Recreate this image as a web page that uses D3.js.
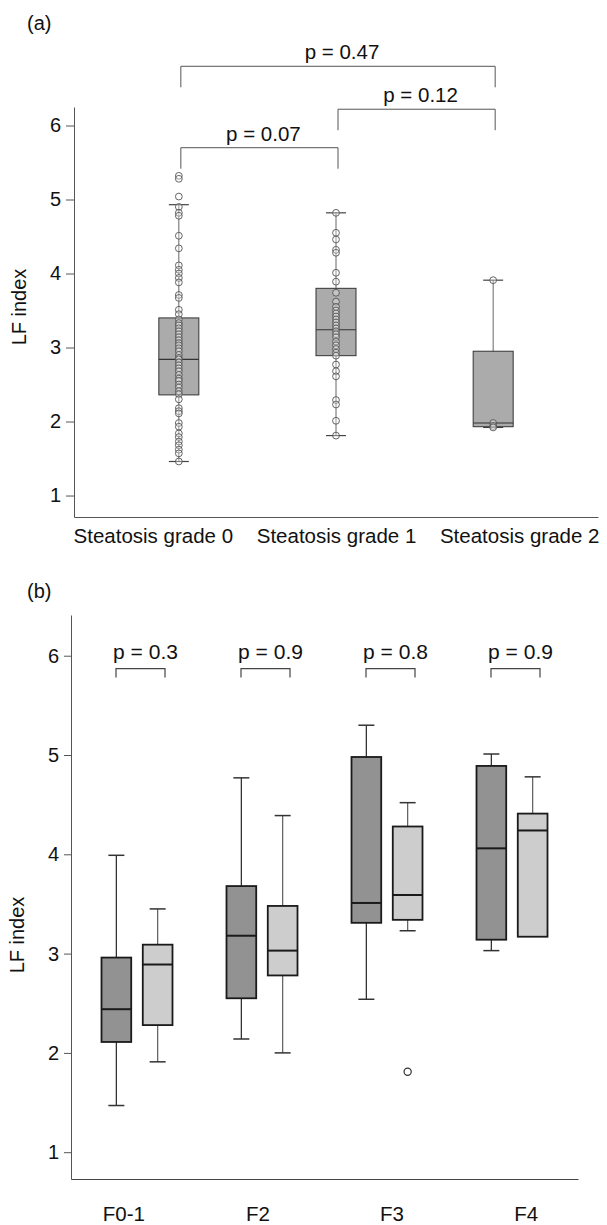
<!DOCTYPE html>
<html>
<head>
<meta charset="utf-8">
<script src="https://cdn.jsdelivr.net/npm/d3@7"></script>
<style>
  body { margin: 0; background: #fff; }
  text { font-family: "Liberation Sans", Arial, sans-serif; fill: #111; }
</style>
</head>
<body>
<div id="chart"></div>
<script>
// ---- panel (a): LF index by steatosis grade ----
const steatosisGrades = ["Steatosis grade 0", "Steatosis grade 1", "Steatosis grade 2"];
const stLow    = [1.46, 1.81, 1.92];
const stQ1     = [2.36, 2.89, 1.93];
const stMedian = [2.84, 3.24, 1.98];
const stQ3     = [3.40, 3.80, 2.95];
const stHigh   = [4.93, 4.82, 3.91];

const grade0Values = [5.32, 5.28, 5.04, 4.90, 4.82, 4.78, 4.51, 4.34, 4.11, 4.05, 4.00, 3.94,
  3.88, 3.71, 3.67, 3.51, 3.45, 3.38, 3.33, 3.30, 3.26, 3.22, 3.18, 3.14, 3.10, 3.06, 3.03,
  2.99, 2.95, 2.90, 2.86, 2.84, 2.80, 2.76, 2.72, 2.68, 2.63, 2.58, 2.55, 2.50, 2.46, 2.41,
  2.37, 2.30, 2.18, 2.14, 2.11, 1.98, 1.93, 1.84, 1.79, 1.73, 1.68, 1.62, 1.57, 1.46];
const grade1Values = [4.82, 4.55, 4.46, 4.32, 4.28, 4.01, 3.89, 3.74, 3.62, 3.55, 3.50, 3.46,
  3.42, 3.38, 3.34, 3.30, 3.26, 3.22, 3.18, 3.14, 3.08, 3.03, 2.98, 2.93, 2.89, 2.77, 2.68,
  2.61, 2.29, 2.23, 2.01, 1.81];
const grade2Values = [3.91, 1.98, 1.94, 1.92];

// comparisons: [from, to, label, bracket level]
const steatosisTests = [
  [0, 1, "p = 0.07", 5.70],
  [1, 2, "p = 0.12", 6.22],
  [0, 2, "p = 0.47", 6.80]
];

// ---- panel (b): LF index by fibrosis stage, two groups ----
const fibrosisStages = ["F0-1", "F2", "F3", "F4"];
const groups = ["dark", "light"];
const darkLow     = [1.47, 2.14, 2.54, 3.03];
const darkQ1      = [2.11, 2.55, 3.31, 3.14];
const darkMedian  = [2.44, 3.18, 3.51, 4.06];
const darkQ3      = [2.96, 3.68, 4.98, 4.89];
const darkHigh    = [3.99, 4.77, 5.30, 5.01];
const lightLow    = [1.91, 2.00, 3.23, 3.17];
const lightQ1     = [2.28, 2.78, 3.34, 3.17];
const lightMedian = [2.89, 3.03, 3.59, 4.24];
const lightQ3     = [3.09, 3.48, 4.28, 4.41];
const lightHigh   = [3.45, 4.39, 4.52, 4.78];
const lightOutliers = [["F3", 1.81]];
const fibrosisPValues = ["p = 0.3", "p = 0.9", "p = 0.8", "p = 0.9"];
const fibrosisBracket = [5.78, 5.87];

const svg = d3.select("#chart").append("svg")
    .attr("width", 607)
    .attr("height", 1225);

// ================= panel (a) =================
const ya = d3.scaleLinear().domain([0.71, 6.25]).range([517, 107]);
const xa = d3.scalePoint().domain(steatosisGrades).range([74, 598]).padding(0.667);
const xaLabel = d3.scalePoint().domain(steatosisGrades).range([74, 598]).padding(0.43);

const pa = svg.append("g");

pa.append("text").attr("x", 27).attr("y", 30).style("font-size", "20px").text("(a)");

const yAxisA = pa.append("g")
    .attr("transform", "translate(74,0)")
    .call(d3.axisLeft(ya).tickValues([1, 2, 3, 4, 5, 6]).tickFormat(d3.format("d"))
      .tickSize(8).tickSizeOuter(0).tickPadding(5));
yAxisA.selectAll("text").style("font-size", "20px").attr("fill", "#111");
yAxisA.selectAll("line,path").attr("stroke", "#555");

const xAxisA = pa.append("g")
    .attr("transform", "translate(0,517)")
    .call(d3.axisBottom(xaLabel).tickSize(0).tickSizeOuter(0).tickPadding(11));
xAxisA.selectAll("text").style("font-size", "20.5px").attr("fill", "#111");
xAxisA.select("path").attr("stroke", "#555");

pa.append("text")
    .attr("transform", "translate(26,307) rotate(-90)")
    .attr("text-anchor", "middle")
    .style("font-size", "20px")
    .text("LF index");

const statsA = steatosisGrades.map((g, i) => ({
  g, low: stLow[i], q1: stQ1[i], med: stMedian[i], q3: stQ3[i], high: stHigh[i]
}));
const pointsA = [grade0Values, grade1Values, grade2Values];

const boxW = 40;
statsA.forEach((d, i) => {
  const cx = xa(d.g);
  pa.append("line")
      .attr("x1", cx).attr("x2", cx)
      .attr("y1", ya(d.low)).attr("y2", ya(d.high))
      .attr("stroke", "#666").attr("stroke-width", 1);
  [d.low, d.high].forEach(v => {
    pa.append("line")
        .attr("x1", cx - 10).attr("x2", cx + 10)
        .attr("y1", ya(v)).attr("y2", ya(v))
        .attr("stroke", "#444").attr("stroke-width", 1.2);
  });
  pa.append("rect")
      .attr("x", cx - boxW / 2).attr("width", boxW)
      .attr("y", ya(d.q3)).attr("height", ya(d.q1) - ya(d.q3))
      .attr("fill", "#ababab").attr("stroke", "#333").attr("stroke-width", 1);
  pa.append("line")
      .attr("x1", cx - boxW / 2).attr("x2", cx + boxW / 2)
      .attr("y1", ya(d.med)).attr("y2", ya(d.med))
      .attr("stroke", "#333").attr("stroke-width", 1.2);
  pa.selectAll(null).data(pointsA[i]).join("circle")
      .attr("cx", cx).attr("cy", v => ya(v)).attr("r", 3.4)
      .attr("fill", "rgba(255,255,255,0.3)")
      .attr("stroke", "#555").attr("stroke-width", 0.9);
});

steatosisTests.forEach(([a, b, label, level]) => {
  const x1 = xa(steatosisGrades[a]) + 2, x2 = xa(steatosisGrades[b]) + 2;
  const top = ya(level);
  pa.append("path")
      .attr("d", `M${x1},${top + 21}V${top}H${x2}V${top + 21}`)
      .attr("fill", "none").attr("stroke", "#555").attr("stroke-width", 1);
  pa.append("text")
      .attr("x", (x1 + x2) / 2 + 4).attr("y", top - 7)
      .attr("text-anchor", "middle")
      .style("font-size", "20.5px")
      .text(label);
});

// ================= panel (b) =================
const yb = d3.scaleLinear().domain([0.73, 6.41]).range([1179, 615]);
const xb = d3.scalePoint().domain(fibrosisStages).range([71, 578]).padding(0.528);
const xbLabel = d3.scalePoint().domain(fibrosisStages).range([71, 578]).padding(0.39);
const xSub = d3.scaleBand().domain(groups).range([-35.5, 35.5]).paddingInner(0.28).paddingOuter(0);

const pb = svg.append("g");

pb.append("text").attr("x", 27).attr("y", 598).style("font-size", "20px").text("(b)");

const yAxisB = pb.append("g")
    .attr("transform", "translate(71,0)")
    .call(d3.axisLeft(yb).tickValues([1, 2, 3, 4, 5, 6]).tickFormat(d3.format("d"))
      .tickSize(7).tickSizeOuter(0).tickPadding(5));
yAxisB.selectAll("text").style("font-size", "20px").attr("fill", "#111");
yAxisB.selectAll("line,path").attr("stroke", "#555");

const xAxisB = pb.append("g")
    .attr("transform", "translate(0,1179)")
    .call(d3.axisBottom(xbLabel).tickSize(0).tickSizeOuter(0).tickPadding(27));
xAxisB.selectAll("text").style("font-size", "20.5px").attr("fill", "#111");
xAxisB.select("path").attr("stroke", "#444");

pb.append("text")
    .attr("transform", "translate(24,935) rotate(-90)")
    .attr("text-anchor", "middle")
    .style("font-size", "20px")
    .text("LF index");

const seriesB = {
  dark:  { low: darkLow,  q1: darkQ1,  med: darkMedian,  q3: darkQ3,  high: darkHigh,  fill: "#929292", whisker: "#333" },
  light: { low: lightLow, q1: lightQ1, med: lightMedian, q3: lightQ3, high: lightHigh, fill: "#cdcdcd", whisker: "#666" }
};

groups.forEach(key => {
  const s = seriesB[key];
  fibrosisStages.forEach((stage, i) => {
    const x0 = xb(stage) + xSub(key);
    const w = xSub.bandwidth();
    const cx = x0 + w / 2;
    if (s.high[i] > s.q3[i]) {
      pb.append("line").attr("x1", cx).attr("x2", cx)
          .attr("y1", yb(s.q3[i])).attr("y2", yb(s.high[i]))
          .attr("stroke", s.whisker).attr("stroke-width", 1.3);
      pb.append("line").attr("x1", cx - 8).attr("x2", cx + 8)
          .attr("y1", yb(s.high[i])).attr("y2", yb(s.high[i]))
          .attr("stroke", "#333").attr("stroke-width", 1.5);
    }
    if (s.low[i] < s.q1[i]) {
      pb.append("line").attr("x1", cx).attr("x2", cx)
          .attr("y1", yb(s.q1[i])).attr("y2", yb(s.low[i]))
          .attr("stroke", s.whisker).attr("stroke-width", 1.3);
      pb.append("line").attr("x1", cx - 8).attr("x2", cx + 8)
          .attr("y1", yb(s.low[i])).attr("y2", yb(s.low[i]))
          .attr("stroke", "#333").attr("stroke-width", 1.5);
    }
    pb.append("rect")
        .attr("x", x0).attr("width", w)
        .attr("y", yb(s.q3[i])).attr("height", yb(s.q1[i]) - yb(s.q3[i]))
        .attr("fill", s.fill).attr("stroke", "#1a1a1a").attr("stroke-width", 1.8);
    pb.append("line")
        .attr("x1", x0).attr("x2", x0 + w)
        .attr("y1", yb(s.med[i])).attr("y2", yb(s.med[i]))
        .attr("stroke", "#1a1a1a").attr("stroke-width", 2);
  });
});

pb.selectAll(null).data(lightOutliers).join("circle")
    .attr("cx", d => xb(d[0]) + xSub("light") + xSub.bandwidth() / 2)
    .attr("cy", d => yb(d[1]))
    .attr("r", 3.6)
    .attr("fill", "#fff").attr("stroke", "#333").attr("stroke-width", 1.2);

fibrosisStages.forEach((stage, i) => {
  const x1 = xb(stage) - 21, x2 = xb(stage) + 28;
  const top = yb(fibrosisBracket[1]), bottom = yb(fibrosisBracket[0]);
  pb.append("path")
      .attr("d", `M${x1},${bottom}V${top}H${x2}V${bottom}`)
      .attr("fill", "none").attr("stroke", "#444").attr("stroke-width", 1.2);
  pb.append("text")
      .attr("x", (x1 + x2) / 2 + 5).attr("y", top - 10)
      .attr("text-anchor", "middle")
      .style("font-size", "21px")
      .text(fibrosisPValues[i]);
});
</script>
</body>
</html>
